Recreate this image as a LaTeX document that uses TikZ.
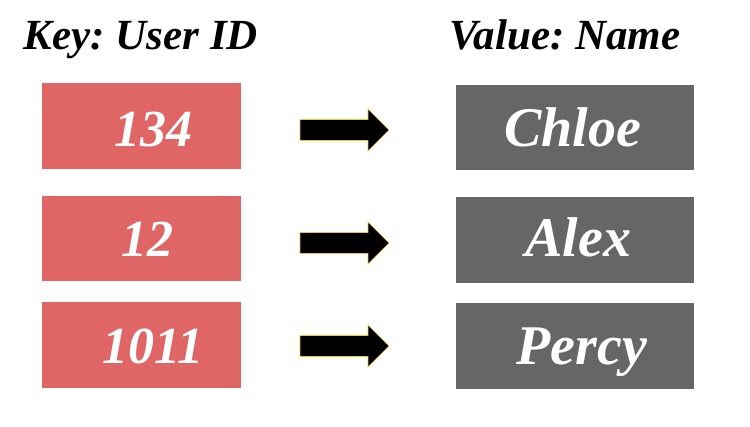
\documentclass[tikz,border=0pt]{standalone}
\usepackage{fontspec}
\setmainfont{Liberation Serif}
\frenchspacing
\definecolor{keyred}{HTML}{E06666}
\definecolor{valgray}{HTML}{666666}
\definecolor{arrowedge}{HTML}{F1C232}
\tikzset{
  keybox/.style={fill=keyred, draw=none, inner sep=0pt},
  valbox/.style={fill=valgray, draw=none, inner sep=0pt},
  headtxt/.style={anchor=base, inner sep=0pt, text=black, font=\fontsize{43}{50}\selectfont\bfseries\itshape},
  boxtxt/.style={anchor=base, inner sep=0pt, text=white, font=\fontsize{56}{64}\selectfont\bfseries\itshape},
  numtxt/.style={anchor=base, inner sep=0pt, text=white, font=\fontsize{52}{60}\selectfont\bfseries\itshape},
  arrowshape/.style={fill=black, draw=arrowedge, line width=0.6pt, line join=miter}
}
\begin{document}
\begin{tikzpicture}[x=1pt, y=-1pt]
\useasboundingbox (0,0) rectangle (750,427);
% headers
\node[headtxt] (hk) at (141,50) {Key: User ID};
\node[headtxt] (hv) at (565,50) {Value: Name};
% key boxes
\node[keybox, minimum width=199pt, minimum height=86pt] (k1) at (141.5,126) {};
\node[keybox, minimum width=199pt, minimum height=85pt] (k2) at (141.5,238.5) {};
\node[keybox, minimum width=199pt, minimum height=86pt] (k3) at (141.5,345) {};
% value boxes
\node[valbox, minimum width=238pt, minimum height=85pt] (v1) at (575,127.5) {};
\node[valbox, minimum width=238pt, minimum height=86pt] (v2) at (575,240) {};
\node[valbox, minimum width=238pt, minimum height=86pt] (v3) at (575,346) {};
% texts
\node[numtxt] (t1) at (153.5,147) {134};
\node[numtxt] (t2) at (147.5,257) {12};
\node[numtxt] (t3) at (153,364) {1011};
\node[boxtxt] (n1) at (572.5,147) {Chloe};
\node[boxtxt] (n2) at (578.5,257) {Alex};
\node[boxtxt] (n3) at (582,365) {Percy};
% arrows
\coordinate (a1) at (344.5,130);
\coordinate (a2) at (344.5,243);
\coordinate (a3) at (344.5,346);
\foreach \a in {a1,a2,a3}{
  \draw[arrowshape] (\a) ++(-44.5,-10.5) -- ++(68,0) -- ++(0,-10.5) -- ++(21,21) -- ++(-21,21) -- ++(0,-10.5) -- ++(-68,0) -- cycle;
}
\end{tikzpicture}
\end{document}
